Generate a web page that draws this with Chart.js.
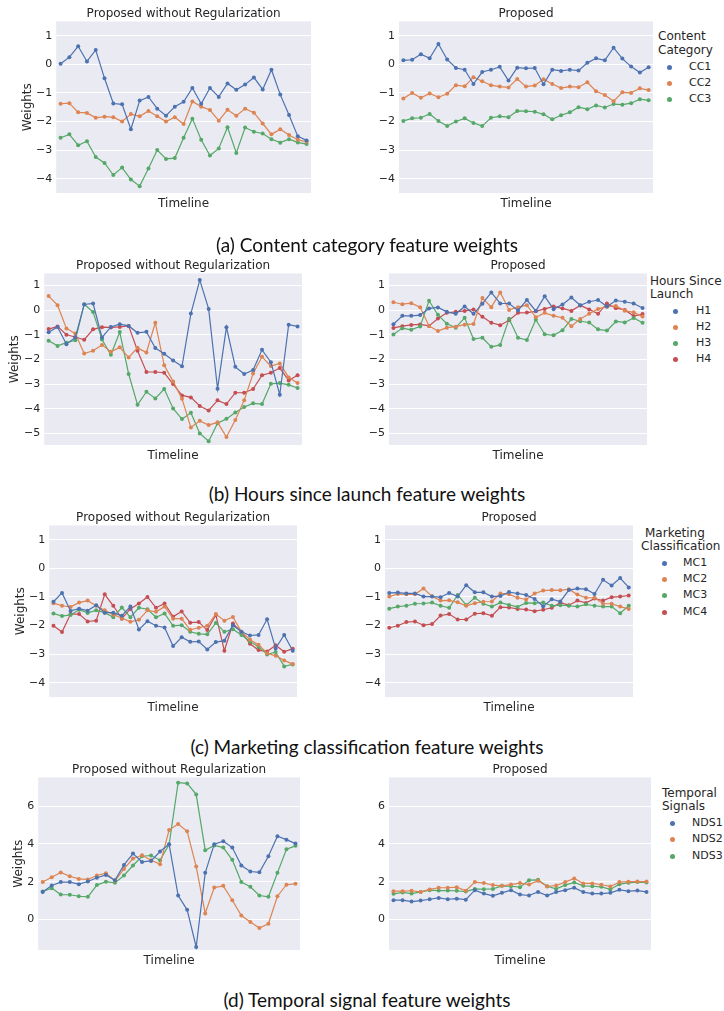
<!DOCTYPE html>
<html>
<head>
<meta charset="utf-8">
<script src="https://cdn.jsdelivr.net/npm/chart.js"></script>
<style>
  body { margin: 0; background: #fff; }
  #fig { position: relative; width: 724px; height: 1011px; overflow: hidden; font-family: "DejaVu Sans", sans-serif; color: #262626; }
  .box { position: absolute; }
  .caption { position: absolute; left: 0; width: 734px; text-align: center; font-family: Lato, "Noto Sans", sans-serif; font-size: 19px; line-height: 19px; color: #111; white-space: nowrap; }
  .lg { position: absolute; font-size: 12px; line-height: 14px; white-space: nowrap; }
  .lg.item { font-size: 11px; }
  .dot { position: absolute; width: 5px; height: 5px; border-radius: 50%; }
</style>
</head>
<body>
<div id="fig"></div>
<script>
// ---- data ----
const timeline = Array.from({ length: 29 }, (_, i) => 'T' + (i + 1));

const yTicksWide = [-4, -3, -2, -1, 0, 1];
const yTicksHours = [-5, -4, -3, -2, -1, 0, 1];
const yTicksTemporal = [0, 2, 4, 6];

// (a) content category
const contentNames = ['CC1', 'CC2', 'CC3'];
const cc1NoReg = [0.02, 0.25, 0.63, 0.1, 0.5, -0.49, -1.37, -1.4, -2.27, -1.27, -1.14, -1.55, -1.8, -1.48, -1.31, -0.83, -1.38, -0.83, -1.14, -0.67, -0.89, -0.71, -0.46, -0.88, -0.19, -1.06, -1.77, -2.52, -2.66];
const cc2NoReg = [-1.38, -1.36, -1.68, -1.7, -1.87, -1.83, -1.85, -2.0, -1.74, -1.82, -1.63, -1.82, -2.0, -1.85, -2.09, -1.3, -1.48, -1.6, -1.97, -1.59, -1.8, -1.55, -1.69, -2.07, -2.45, -2.27, -2.47, -2.64, -2.71];
const cc3NoReg = [-2.57, -2.45, -2.83, -2.69, -3.24, -3.45, -3.87, -3.61, -4.03, -4.26, -3.64, -3.0, -3.31, -3.28, -2.57, -1.9, -2.64, -3.19, -2.94, -2.2, -3.1, -2.21, -2.36, -2.42, -2.62, -2.74, -2.62, -2.73, -2.79];
const cc1Prop = [0.14, 0.16, 0.35, 0.21, 0.71, 0.17, -0.13, -0.19, -0.69, -0.27, -0.19, -0.09, -0.57, -0.12, -0.14, -0.13, -0.7, -0.19, -0.23, -0.19, -0.22, 0.05, 0.21, 0.14, 0.58, 0.2, -0.08, -0.29, -0.1];
const cc2Prop = [-1.2, -1.0, -1.17, -1.02, -1.15, -1.03, -0.73, -0.77, -0.45, -0.59, -0.73, -0.78, -0.81, -0.51, -0.78, -0.74, -0.52, -0.69, -0.83, -0.78, -0.8, -0.63, -0.94, -1.07, -1.29, -0.98, -1.0, -0.84, -0.9];
const cc3Prop = [-1.98, -1.89, -1.87, -1.74, -1.98, -2.16, -2.0, -1.89, -2.05, -2.16, -1.87, -1.82, -1.85, -1.63, -1.64, -1.66, -1.75, -1.92, -1.78, -1.68, -1.5, -1.57, -1.44, -1.51, -1.39, -1.41, -1.36, -1.22, -1.26];

// (b) hours since launch
const hoursNames = ['H1', 'H2', 'H3', 'H4'];
const h1NoReg = [-0.9, -0.68, -1.38, -1.11, 0.23, 0.27, -1.11, -0.68, -0.57, -0.64, -0.92, -0.88, -1.54, -1.77, -2.04, -2.28, -0.14, 1.22, 0.05, -3.19, -0.69, -2.3, -2.59, -2.43, -1.61, -2.11, -3.43, -0.59, -0.66];
const h2NoReg = [0.57, 0.2, -0.74, -0.95, -1.76, -1.65, -1.41, -1.69, -1.51, -1.92, -1.53, -1.72, -0.51, -2.24, -2.89, -3.59, -4.76, -4.49, -4.66, -4.55, -5.15, -4.46, -3.65, -2.57, -1.89, -2.27, -2.16, -2.73, -2.96];
const h3NoReg = [-1.24, -1.45, -1.32, -1.22, 0.24, -0.08, -1.19, -1.81, -0.89, -2.59, -3.84, -3.31, -3.58, -3.2, -3.99, -4.42, -4.16, -5.0, -5.32, -4.59, -4.41, -4.15, -3.93, -3.78, -3.81, -2.99, -2.96, -3.03, -3.16];
const h4NoReg = [-0.77, -0.66, -1.0, -1.09, -1.2, -0.78, -0.69, -0.7, -0.68, -0.64, -1.65, -2.51, -2.51, -2.54, -3.0, -3.46, -3.54, -3.89, -4.07, -3.66, -3.81, -3.35, -3.35, -3.2, -2.64, -2.54, -2.35, -2.85, -2.64];
const h1Prop = [-0.57, -0.23, -0.23, -0.2, 0.07, 0.11, -0.07, -0.15, 0.15, -0.15, 0.26, 0.72, 0.27, 0.27, -0.01, 0.41, -0.03, 0.56, 0.04, 0.23, 0.51, 0.2, 0.34, 0.41, 0.15, 0.39, 0.34, 0.27, 0.09];
const h2Prop = [0.32, 0.24, 0.28, 0.12, -0.64, -0.85, -0.71, -0.67, -0.59, -0.56, 0.49, 0.12, 0.72, 0.01, 0.12, 0.2, -0.29, -0.11, -0.23, -0.31, -0.65, -0.36, -0.15, 0.05, 0.14, 0.17, -0.02, -0.09, -0.26];
const h3Prop = [-0.99, -0.73, -0.8, -0.66, 0.38, -0.19, -0.55, -0.71, -0.31, -1.17, -1.12, -1.49, -1.41, -0.35, -1.12, -1.21, -0.39, -0.98, -1.02, -0.82, -0.36, -0.45, -0.5, -0.78, -0.83, -0.46, -0.5, -0.32, -0.51];
const h4Prop = [-0.72, -0.65, -0.6, -0.58, -0.64, -0.34, -0.11, -0.07, -0.03, 0.03, -0.27, -0.51, -0.61, -0.41, -0.11, -0.1, -0.05, 0.05, 0.15, 0.07, -0.03, 0.19, 0.03, -0.15, 0.27, 0.08, 0.01, -0.24, -0.16];

// (c) marketing classification
const marketingNames = ['MC1', 'MC2', 'MC3', 'MC4'];
const mc1NoReg = [-1.17, -0.86, -1.49, -1.41, -1.48, -1.29, -1.55, -1.55, -1.66, -1.34, -2.14, -1.85, -2.01, -2.07, -2.72, -2.41, -2.57, -2.56, -2.84, -2.58, -2.53, -1.99, -2.22, -2.35, -2.33, -1.78, -2.8, -2.33, -2.88];
const mc2NoReg = [-1.22, -1.31, -1.35, -1.2, -1.13, -1.31, -1.47, -1.62, -1.74, -1.87, -1.8, -1.47, -1.52, -1.34, -1.76, -1.76, -2.15, -2.08, -2.01, -1.6, -1.83, -1.7, -2.22, -2.5, -2.67, -2.97, -3.06, -3.22, -3.35];
const mc3NoReg = [-1.58, -1.67, -1.63, -1.45, -1.56, -1.47, -1.55, -1.71, -1.37, -1.71, -1.38, -1.43, -1.71, -1.58, -2.01, -1.99, -2.22, -2.29, -2.31, -1.91, -2.22, -2.13, -2.33, -2.56, -2.74, -3.01, -2.93, -3.43, -3.36];
const mc4NoReg = [-2.01, -2.23, -1.6, -1.6, -1.86, -1.83, -0.91, -1.31, -1.76, -1.42, -1.23, -1.0, -1.38, -1.23, -1.69, -1.51, -1.9, -1.88, -2.16, -1.63, -2.88, -1.93, -2.23, -2.64, -2.86, -2.91, -2.69, -2.92, -2.81];
const mc1Prop = [-0.86, -0.85, -0.88, -0.88, -0.99, -0.99, -1.01, -0.86, -0.99, -0.59, -0.84, -0.84, -0.99, -0.97, -0.83, -0.88, -0.93, -1.07, -1.33, -1.08, -1.16, -0.76, -0.71, -0.73, -0.9, -0.4, -0.6, -0.34, -0.67];
const mc2Prop = [-0.99, -0.9, -0.91, -0.91, -0.71, -0.98, -1.13, -1.12, -1.19, -1.31, -1.22, -1.17, -1.16, -0.88, -0.91, -1.03, -1.09, -0.88, -0.78, -0.76, -0.77, -0.73, -0.92, -1.03, -1.03, -1.24, -1.24, -1.34, -1.42];
const mc3Prop = [-1.41, -1.34, -1.31, -1.24, -1.23, -1.2, -1.31, -1.38, -0.93, -1.29, -1.03, -1.24, -1.34, -1.2, -1.28, -1.35, -1.21, -1.22, -1.2, -1.31, -1.29, -1.31, -1.34, -1.26, -1.31, -1.34, -1.34, -1.57, -1.31];
const mc4Prop = [-2.08, -2.01, -1.88, -1.86, -1.99, -1.95, -1.65, -1.6, -1.79, -1.79, -1.59, -1.57, -1.66, -1.36, -1.37, -1.42, -1.44, -1.5, -1.45, -1.38, -1.2, -1.29, -1.13, -1.21, -1.06, -1.13, -1.01, -0.99, -0.95];

// (d) temporal signals
const temporalNames = ['NDS1', 'NDS2', 'NDS3'];
const nds1NoReg = [1.45, 1.8, 1.98, 1.98, 1.87, 2.01, 2.21, 2.36, 2.08, 2.89, 3.49, 3.05, 3.1, 3.6, 3.99, 1.27, 0.51, -1.46, 2.47, 3.99, 4.15, 3.81, 2.86, 2.54, 2.5, 3.35, 4.41, 4.23, 4.02];
const nds2NoReg = [1.98, 2.24, 2.49, 2.29, 2.15, 2.12, 2.33, 2.45, 2.05, 2.68, 3.23, 3.4, 3.14, 2.93, 4.74, 5.06, 4.67, 2.8, 0.32, 1.69, 1.78, 1.02, 0.21, -0.14, -0.46, -0.23, 1.23, 1.84, 1.89];
const nds3NoReg = [1.48, 1.66, 1.32, 1.31, 1.23, 1.2, 1.82, 2.0, 1.94, 2.33, 2.86, 3.35, 3.39, 3.14, 3.97, 7.25, 7.21, 6.63, 3.67, 3.92, 3.81, 3.16, 1.98, 1.73, 1.27, 1.2, 2.47, 3.72, 3.9];
const nds1Prop = [1.02, 1.02, 0.95, 1.0, 1.07, 1.14, 1.07, 1.1, 1.05, 1.55, 1.37, 1.25, 1.41, 1.55, 1.32, 1.27, 1.46, 1.27, 1.45, 1.55, 1.68, 1.45, 1.37, 1.37, 1.41, 1.57, 1.5, 1.53, 1.46];
const nds2Prop = [1.5, 1.5, 1.52, 1.46, 1.59, 1.68, 1.68, 1.71, 1.52, 1.98, 1.93, 1.82, 1.78, 1.85, 1.93, 1.85, 2.05, 1.75, 1.8, 1.98, 2.17, 1.91, 1.91, 1.84, 1.75, 1.98, 2.0, 2.01, 2.01];
const nds3Prop = [1.36, 1.43, 1.37, 1.46, 1.55, 1.53, 1.53, 1.52, 1.48, 1.62, 1.6, 1.62, 1.78, 1.76, 1.71, 2.08, 2.1, 1.76, 1.62, 1.82, 1.96, 1.78, 1.76, 1.73, 1.59, 1.87, 1.94, 1.98, 1.96];

// ---- style / layout ----
const palette = ['#4C72B0', '#DD8452', '#55A868', '#C44E52'];
const ink = '#262626';
const noRegTitle = 'Proposed without Regularization';
const propTitle = 'Proposed';

// rect = plot area [left, top, width, height]; yOff = distance of "Weights" centre left of plot
const panels = [
  { rect: [56, 21, 255, 172], title: noRegTitle, yOff: 28, ylim: [-4.5, 1.5], ticks: yTicksWide, names: contentNames, series: [cc1NoReg, cc2NoReg, cc3NoReg] },
  { rect: [399, 21, 254, 172], title: propTitle, ylim: [-4.5, 1.5], ticks: yTicksWide, names: contentNames, series: [cc1Prop, cc2Prop, cc3Prop] },
  { rect: [44, 273, 258, 172], title: noRegTitle, yOff: 29, ylim: [-5.47, 1.49], ticks: yTicksHours, names: hoursNames, series: [h1NoReg, h2NoReg, h3NoReg, h4NoReg] },
  { rect: [389, 273, 258, 172], title: propTitle, ylim: [-5.47, 1.49], ticks: yTicksHours, names: hoursNames, series: [h1Prop, h2Prop, h3Prop, h4Prop] },
  { rect: [49, 525, 248, 172], title: noRegTitle, yOff: 28, ylim: [-4.5, 1.5], ticks: yTicksWide, names: marketingNames, series: [mc1NoReg, mc2NoReg, mc3NoReg, mc4NoReg] },
  { rect: [385, 525, 248, 172], title: propTitle, ylim: [-4.5, 1.5], ticks: yTicksWide, names: marketingNames, series: [mc1Prop, mc2Prop, mc3Prop, mc4Prop] },
  { rect: [38, 777, 262, 173], title: noRegTitle, yOff: 19, ylim: [-1.62, 7.53], ticks: yTicksTemporal, names: temporalNames, series: [nds1NoReg, nds2NoReg, nds3NoReg] },
  { rect: [389, 777, 262, 173], title: propTitle, ylim: [-1.62, 7.53], ticks: yTicksTemporal, names: temporalNames, series: [nds1Prop, nds2Prop, nds3Prop] }
];

const legends = [
  { head: [['Content', 658, 36], ['Category', 658, 50]], dotX: 669, textX: 689, rows: [67, 83, 99], names: contentNames },
  { head: [['Hours Since', 650, 281], ['Launch', 650, 294]], dotX: 675, textX: 696, rows: [311, 327, 343, 359], names: hoursNames },
  { head: [['Marketing', 645, 533], ['Classification', 641, 546]], dotX: 664, textX: 683, rows: [563, 579, 595, 612], names: marketingNames },
  { head: [['Temporal', 662, 793], ['Signals', 662, 806]], dotX: 672, textX: 692, rows: [823, 839, 856], names: temporalNames }
];

const captions = [
  ['(a) Content category feature weights', 251.5],
  ['(b) Hours since launch feature weights', 501],
  ['(c) Marketing classification feature weights', 754],
  ['(d) Temporal signal feature weights', 1006.5]
];

const fig = document.getElementById('fig');

// grey plot background like seaborn darkgrid
const bgPlugin = {
  id: 'bg',
  beforeDraw(chart) {
    const { ctx, chartArea: a } = chart;
    ctx.save();
    ctx.fillStyle = '#EAEAF2';
    ctx.fillRect(a.left, a.top, a.right - a.left, a.bottom - a.top);
    ctx.restore();
  }
};

const minus = v => (v < 0 ? '\u2212' + Math.abs(v) : String(v));

function makePanel(p) {
  const [L, T, W, H] = p.rect;
  const hasY = p.yOff !== undefined;
  const yW = hasY ? p.yOff + 11.2 : 40;
  const topH = 14.4 + 4;
  const xH = 22;
  const cw = Math.round(W + yW + 2), ch = Math.round(H + topH + xH);

  const div = document.createElement('div');
  div.className = 'box';
  div.style.left = (L - yW) + 'px';
  div.style.top = (T - topH) + 'px';
  const c = document.createElement('canvas');
  c.width = cw; c.height = ch;
  c.style.width = cw + 'px'; c.style.height = ch + 'px';
  div.appendChild(c);
  fig.appendChild(div);

  new Chart(c, {
    type: 'line',
    data: {
      labels: timeline,
      datasets: p.series.map((d, i) => ({
        label: p.names[i],
        data: d,
        borderColor: palette[i],
        backgroundColor: palette[i],
        borderWidth: 1.2,
        pointRadius: 2,
        pointBorderWidth: 0,
        pointHoverRadius: 2,
        tension: 0
      }))
    },
    options: {
      responsive: false,
      animation: false,
      layout: { padding: { left: 0, right: cw - yW - W, top: 0, bottom: 0 } },
      plugins: {
        legend: { display: false },
        tooltip: { enabled: false },
        title: {
          display: true, text: p.title, fullSize: false, color: ink,
          font: { family: 'DejaVu Sans', size: 12, weight: 'normal' },
          padding: { top: 4, bottom: 0 }
        }
      },
      scales: {
        x: {
          type: 'category', offset: true,
          grid: { display: false }, border: { display: false },
          ticks: { display: false },
          title: { display: true, text: 'Timeline', color: ink, font: { family: 'DejaVu Sans', size: 12 }, padding: { top: 4, bottom: 4 } },
          afterFit: s => { s.height = xH; }
        },
        y: {
          min: p.ylim[0], max: p.ylim[1],
          grid: { color: '#ffffff', lineWidth: 1.1, drawTicks: false },
          border: { display: false },
          ticks: { padding: 4, color: ink, font: { family: 'DejaVu Sans', size: 11 }, callback: v => minus(v) },
          title: { display: hasY, text: 'Weights', color: ink, font: { family: 'DejaVu Sans', size: 12 }, padding: { top: 4, bottom: 4 } },
          afterBuildTicks: s => { s.ticks = p.ticks.map(v => ({ value: v })); },
          afterFit: s => { s.width = yW; }
        }
      }
    },
    plugins: [bgPlugin]
  });
}

panels.forEach(makePanel);

// legends to the right of the "Proposed" panels
legends.forEach(lg => {
  lg.head.forEach(([txt, x, y]) => {
    const d = document.createElement('div');
    d.className = 'lg';
    d.textContent = txt;
    d.style.left = x + 'px';
    d.style.top = (y - 7) + 'px';
    fig.appendChild(d);
  });
  lg.names.forEach((name, i) => {
    const dot = document.createElement('div');
    dot.className = 'dot';
    dot.style.background = palette[i];
    dot.style.left = (lg.dotX - 2.5) + 'px';
    dot.style.top = (lg.rows[i] - 2.5) + 'px';
    fig.appendChild(dot);
    const t = document.createElement('div');
    t.className = 'lg item';
    t.textContent = name;
    t.style.left = lg.textX + 'px';
    t.style.top = (lg.rows[i] - 7) + 'px';
    fig.appendChild(t);
  });
});

captions.forEach(([txt, base]) => {
  const d = document.createElement('div');
  d.className = 'caption';
  d.textContent = txt;
  d.style.top = (base - 16.8) + 'px';
  fig.appendChild(d);
});
</script>
</body>
</html>
